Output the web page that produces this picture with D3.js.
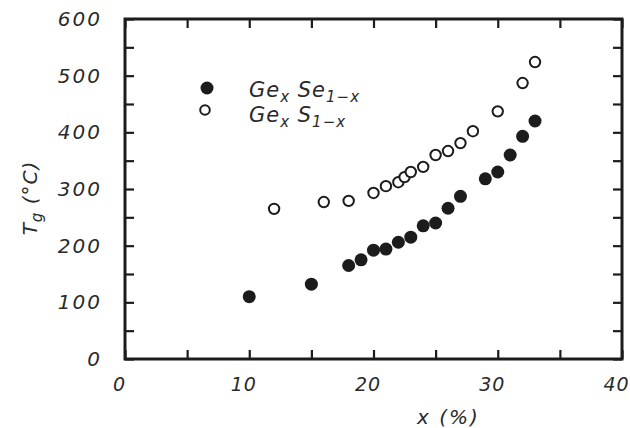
<!DOCTYPE html>
<html>
<head>
<meta charset="utf-8">
<script src="https://cdn.jsdelivr.net/npm/d3@7"></script>
<style>
  body { margin: 0; background: #fff; }
  text { font-family: "DejaVu Sans", sans-serif; font-style: oblique; fill: #2a2a2a; }
</style>
</head>
<body>
<div id="chart"></div>
<script>
// Tg vs composition for two chalcogenide glasses
const geSeX = [10, 15, 18, 19, 20, 21, 22, 23, 24, 25, 26, 27, 29, 30, 31, 32, 33];
const geSeTg = [110, 132, 165, 175, 192, 194, 206, 215, 235, 240, 266, 287, 318, 330, 360, 393, 420];

const geSX = [12, 16, 18, 20, 21, 22, 22.5, 23, 24, 25, 26, 27, 28, 30, 32, 33];
const geSTg = [265, 277, 279, 293, 305, 312, 321, 330, 339, 360, 367, 381, 402, 437, 487, 524];

const xTicks = [0, 5, 10, 15, 20, 25, 30, 35, 40];
const yTicks = [0, 50, 100, 150, 200, 250, 300, 350, 400, 450, 500, 550, 600];

var svgwidth = 630;
var svgheight = 428;
var plotL = 125, plotR = 622, plotT = 19, plotB = 359;
var ink = '#1c1c1c';

var svg = d3.select('#chart')
    .append('svg')
    .attr('width', svgwidth)
    .attr('height', svgheight);

var xscale = d3.scaleLinear().domain([0, 40]).range([plotL, plotR]);
var yscale = d3.scaleLinear().domain([0, 600]).range([plotB, plotT]);

// axes, ticks pointing inward
var fmtY = d => d % 100 === 0 ? d : '';
var fmtX = d => d % 10 === 0 ? d : '';

var gl = svg.append('g').attr('transform', `translate(${plotL},0)`)
    .call(d3.axisLeft(yscale).tickValues(yTicks).tickSize(-9).tickPadding(23).tickFormat(fmtY));
var gr = svg.append('g').attr('transform', `translate(${plotR},0)`)
    .call(d3.axisRight(yscale).tickValues(yTicks).tickSize(-9).tickFormat(''));
var gb = svg.append('g').attr('transform', `translate(0,${plotB})`)
    .call(d3.axisBottom(xscale).tickValues(xTicks).tickSize(-9).tickPadding(19).tickFormat(fmtX));
var gt = svg.append('g').attr('transform', `translate(0,${plotT})`)
    .call(d3.axisTop(xscale).tickValues(xTicks).tickSize(-9).tickFormat(''));

[gl, gr, gb, gt].forEach(g => {
    g.select('.domain').remove();
    g.selectAll('line').attr('stroke', ink).attr('stroke-width', 2.2);
    g.selectAll('text')
        .attr('fill', '#2a2a2a')
        .style('font-size', '20px')
        .style('letter-spacing', '2px')
        .style('font-family', '"DejaVu Sans", sans-serif')
        .style('font-style', 'oblique');
});
// x labels sit a bit left of their ticks in the original
gb.selectAll('text').attr('dx', -6).style('font-size', '19px').style('letter-spacing', '1px');

// frame
svg.append('rect')
    .attr('x', plotL).attr('y', plotT)
    .attr('width', plotR - plotL).attr('height', plotB - plotT)
    .attr('fill', 'none')
    .attr('stroke', ink)
    .attr('stroke-width', 3);

// points
svg.append('g').selectAll('circle')
    .data(geSeX.map((x, i) => [x, geSeTg[i]]))
    .join('circle')
    .attr('cx', d => xscale(d[0]))
    .attr('cy', d => yscale(d[1]))
    .attr('r', 6.5)
    .attr('fill', ink);

svg.append('g').selectAll('circle')
    .data(geSX.map((x, i) => [x, geSTg[i]]))
    .join('circle')
    .attr('cx', d => xscale(d[0]))
    .attr('cy', d => yscale(d[1]))
    .attr('r', 5.2)
    .attr('fill', '#fff')
    .attr('stroke', ink)
    .attr('stroke-width', 2);

// legend
svg.append('circle').attr('cx', 207).attr('cy', 88).attr('r', 6.5).attr('fill', ink);
svg.append('circle').attr('cx', 205).attr('cy', 110).attr('r', 4.8)
    .attr('fill', '#fff').attr('stroke', ink).attr('stroke-width', 2);

function legendLabel(y, el) {
    var t = svg.append('text').attr('x', 249).attr('y', y)
        .style('font-size', '21px').style('letter-spacing', '1px');
    t.append('tspan').text('Ge');
    t.append('tspan').attr('dy', 5).style('font-size', '15px').text('x');
    t.append('tspan').attr('dy', -5).text(' ' + el);
    t.append('tspan').attr('dy', 5).style('font-size', '15px').text('1\u2212x');
}
legendLabel(97, 'Se');
legendLabel(122, 'S');

// axis titles
var xt = svg.append('text').attr('x', 417).attr('y', 424)
    .style('font-size', '20px').style('letter-spacing', '2px');
xt.text('x (%)');

var yt = svg.append('text')
    .attr('transform', 'translate(37,198) rotate(-90)')
    .attr('text-anchor', 'middle')
    .style('font-size', '20px').style('letter-spacing', '1px');
yt.append('tspan').text('T');
yt.append('tspan').attr('dy', 5).style('font-size', '15px').text('g');
yt.append('tspan').attr('dy', -5).text(' (\u00b0C)');
</script>
</body>
</html>
